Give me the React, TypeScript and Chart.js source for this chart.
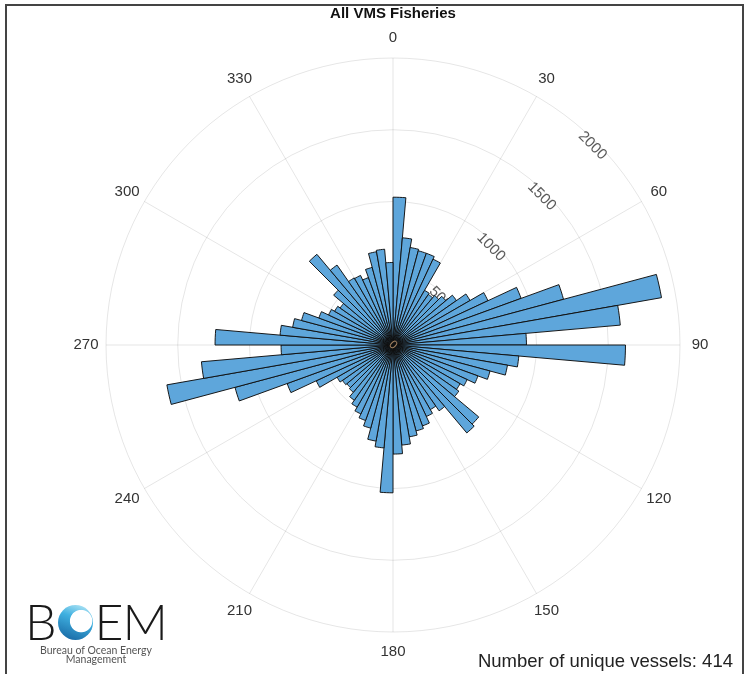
import React, { useEffect, useRef } from 'react';
import { Chart, registerables } from 'chart.js';

Chart.register(...registerables);

// Bin start angles (degrees, clockwise from north), 5-degree bins
const BIN_STARTS = [
  0, 5, 10, 15, 20, 25, 30, 35, 40, 45, 50, 55,
  60, 65, 70, 75, 80, 85, 90, 95, 100, 105, 110, 115,
  120, 125, 130, 135, 140, 145, 150, 155, 160, 165, 170, 175,
  180, 185, 190, 195, 200, 205, 210, 215, 220, 225, 230, 235,
  240, 245, 250, 255, 260, 265, 270, 275, 280, 285, 290, 295,
  300, 305, 310, 315, 320, 325, 330, 335, 340, 345, 350, 355,
];

// Counts per bin
const COUNTS = [
  1030, 750, 690, 680, 680, 660, 440, 430, 450, 480, 540, 620,
  730, 950, 1230, 1900, 1590, 930, 1620, 880, 810, 700, 630, 570,
  540, 560, 780, 800, 560, 520, 550, 600, 620, 650, 700, 760,
  1030, 720, 680, 600, 560, 530, 500, 470, 430, 420, 430, 450,
  590, 785, 1140, 1600, 1340, 780, 1240, 790, 710, 660, 550, 495,
  470, 450, 540, 825, 680, 540, 535, 500, 560, 660, 670, 575,
];

const ANGLE_TICKS = [0, 30, 60, 90, 120, 150, 180, 210, 240, 270, 300, 330];
const RADIAL_TICKS = [500, 1000, 1500, 2000];
const R_MAX = 2000;
const R_STEP = 500;
const TITLE = 'All VMS Fisheries';
const FOOTER = 'Number of unique vessels: 414';

const FONT = '"Liberation Sans", Arial, Helvetica, sans-serif';

export default function App() {
  const ref = useRef<HTMLCanvasElement>(null);

  useEffect(() => {
    if (!ref.current) return;
    const binWidth = BIN_STARTS[1] - BIN_STARTS[0];

    const labelsPlugin = {
      id: 'polarLabels',
      beforeDatasetsDraw(chart: any) {
        const s = chart.scales.r;
        const ctx = chart.ctx;
        ctx.save();
        ctx.font = `15px ${FONT}`;
        ctx.fillStyle = '#5a5a5a';
        ctx.textAlign = 'center';
        ctx.textBaseline = 'middle';
        const a = Math.PI / 4;
        RADIAL_TICKS.forEach((v) => {
          const d = s.getDistanceFromCenterForValue(v) - 5;
          const x = s.xCenter + d * Math.sin(a);
          const y = s.yCenter - d * Math.cos(a);
          ctx.save();
          ctx.translate(x, y);
          ctx.rotate(a);
          ctx.fillText(String(v), 0, 0);
          ctx.restore();
        });
        ctx.restore();
      },
      afterDatasetsDraw(chart: any) {
        const s = chart.scales.r;
        const ctx = chart.ctx;
        ctx.save();
        ctx.font = `12px ${FONT}`;
        ctx.fillStyle = '#a08060';
        ctx.textAlign = 'center';
        ctx.textBaseline = 'middle';
        ctx.translate(s.xCenter, s.yCenter);
        ctx.rotate(Math.PI / 4);
        ctx.fillText('0', 0, 0);
        ctx.restore();
      },
      afterDraw(chart: any) {
        const s = chart.scales.r;
        const ctx = chart.ctx;
        ctx.save();
        ctx.font = `15px ${FONT}`;
        ctx.fillStyle = '#333';
        ctx.textAlign = 'center';
        ctx.textBaseline = 'middle';
        ANGLE_TICKS.forEach((deg) => {
          const p = s.getPointPosition(deg / binWidth, s.drawingArea + 20);
          ctx.fillText(String(deg), p.x, p.y);
        });
        ctx.restore();
      },
    };

    const chart = new Chart(ref.current, {
      type: 'polarArea',
      data: {
        labels: BIN_STARTS.map(String),
        datasets: [
          {
            data: COUNTS,
            backgroundColor: 'rgb(94,166,219)',
            borderColor: 'rgba(15,15,15,0.95)',
            borderWidth: 1,
          },
        ],
      },
      options: {
        responsive: false,
        animation: false,
        layout: { padding: { left: 106, top: 58, right: 66, bottom: 42 } },
        plugins: {
          legend: { display: false },
          tooltip: { enabled: false },
          title: { display: false },
        },
        scales: {
          r: {
            min: 0,
            max: R_MAX,
            startAngle: 0,
            ticks: { display: false, stepSize: R_STEP },
            grid: { circular: true, color: 'rgba(0,0,0,0.1)', lineWidth: 1 },
            angleLines: {
              display: true,
              color: 'rgba(0,0,0,0.1)',
              lineWidth: (c: any) => (c.index % (30 / binWidth) === 0 ? 1 : 0),
            },
            pointLabels: { display: false },
          },
        },
      } as any,
      plugins: [labelsPlugin],
    });
    return () => chart.destroy();
  }, []);

  return (
    <div
      style={{
        position: 'fixed',
        left: 0,
        top: 0,
        width: 746,
        height: 674,
        background: '#fff',
        overflow: 'hidden',
        fontFamily: FONT,
      }}
    >
      <canvas ref={ref} width={746} height={674} style={{ position: 'absolute', left: 0, top: 0 }} />
      <div
        style={{
          position: 'absolute',
          left: 5,
          top: 4,
          width: 735,
          height: 700,
          borderLeft: '2px solid #444',
          borderTop: '2px solid #444',
          borderRight: '2px solid #444',
          pointerEvents: 'none',
        }}
      />
      <div
        style={{
          position: 'absolute',
          left: 0,
          width: 786,
          top: 4,
          textAlign: 'center',
          fontWeight: 'bold',
          fontSize: 15,
          color: '#111',
          lineHeight: '18px',
        }}
      >
        {TITLE}
      </div>
      <div
        style={{
          position: 'absolute',
          right: 13,
          top: 651,
          fontSize: 18.5,
          color: '#222',
          lineHeight: '20px',
          whiteSpace: 'nowrap',
        }}
      >
        {FOOTER}
      </div>
      <div
        style={{
          position: 'absolute',
          left: 20,
          top: 598,
          width: 152,
          textAlign: 'center',
          fontFamily: 'Lato, "Open Sans", sans-serif',
        }}
      >
        <div
          style={{
            display: 'flex',
            alignItems: 'center',
            justifyContent: 'center',
            height: 46,
            fontSize: 50,
            fontWeight: 300,
            lineHeight: '46px',
            color: '#1a1a1a',
            whiteSpace: 'nowrap',
          }}
        >
          <span style={{ flex: 'none' }}>B</span>
          <span
            style={{
              flex: '0 0 35px',
              display: 'inline-block',
              width: 35,
              height: 35,
              borderRadius: '50%',
              margin: '3px 2px 0 1px',
              color: 'transparent',
              fontSize: 28,
              lineHeight: '35px',
              textAlign: 'center',
              overflow: 'hidden',
              background:
                'radial-gradient(circle at 66% 46%, #fff 0 36%, rgba(255,255,255,0) 39%), linear-gradient(200deg, #c4eef9 0%, #3fb0e0 40%, #13609d 100%)',
            }}
          >
            O
          </span>
          <span style={{ flex: 'none', letterSpacing: -1 }}>EM</span>
        </div>
        <div style={{ fontSize: 10.5, color: '#555', lineHeight: '9px', marginTop: 2 }}>
          Bureau of Ocean Energy
          <br />
          Management
        </div>
      </div>
    </div>
  );
}
